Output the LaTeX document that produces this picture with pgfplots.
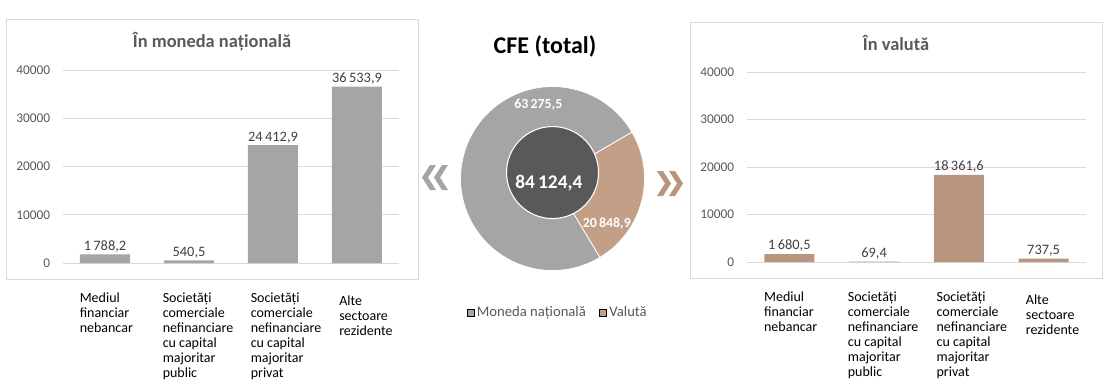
\documentclass[border=0pt]{standalone}
\usepackage{pgfplots}
\pgfplotsset{compat=1.18}
\usepackage{fontspec}
\setmainfont{Carlito}
\definecolor{barg}{HTML}{A5A5A5}
\definecolor{barb}{HTML}{B8957E}
\definecolor{slb}{HTML}{C49F87}
\definecolor{darkc}{HTML}{595959}
\definecolor{txt}{HTML}{595959}
\definecolor{gridc}{HTML}{D9D9D9}
\definecolor{lbl}{HTML}{404040}
\pgfplotsset{
  barax/.style={
    scale only axis, anchor=south west, clip=false,
    xmin=-0.5, xmax=3.5, ymin=0, ymax=40000,
    ytick={0,10000,20000,30000,40000}, scaled y ticks=false,
    ymajorgrids, grid style={gridc, line width=0.75pt},
    axis line style={draw=none}, major tick length=0pt,
    xtick={0,1,2,3},
    xticklabels={{Mediul\\financiar\\nebancar},
      {Societăți\\comerciale\\nefinanciare\\cu capital\\majoritar\\public},
      {Societăți\\comerciale\\nefinanciare\\cu capital\\majoritar\\privat},
      {Alte\\sectoare\\rezidente}},
    xticklabel style={anchor=north west, align=left, inner sep=0pt,
      font=\fontsize{10.5}{11.25}\selectfont, text=black,
      xshift={{-25.5,-26.5,-22.5,-18}[\ticknum]*0.75pt},
      yshift={{-22,-22,-22,-24.5}[\ticknum]*1pt}},
    yticklabel style={text=txt, font=\fontsize{10}{12}\selectfont, inner sep=0pt, xshift=-9.5pt},
    /pgf/number format/assume math mode=true,
    /pgf/number format/1000 sep={},
    ybar, bar width=37.5pt,
    nodes near coords={\pgfmathprintnumber[fixed, fixed zerofill, precision=1, use comma, 1000 sep={\,}, assume math mode=true]{\pgfplotspointmeta}},
    every node near coord/.append style={font=\fontsize{10.8}{12}\selectfont, text=lbl, inner sep=1.5pt},
  }
}
% donut values
\def\vmn{63275.5}
\def\vval{20848.9}
\def\astart{30.3}
\edef\aval{\fpeval{\astart-360*\vval/(\vmn+\vval)}}
\edef\amn{\fpeval{\astart+360*\vmn/(\vmn+\vval)}}
\begin{document}
\begin{tikzpicture}
\begin{scope}[x=0.75pt,y=-0.75pt]
\useasboundingbox (0,0) rectangle (1111,386);
\draw[gridc, line width=0.75pt] (6,19) rectangle (418,279);
\draw[gridc, line width=0.75pt] (690,22) rectangle (1102,278);
\node[font=\bfseries\fontsize{13.8}{16}\selectfont, text=txt] at (212,42) {În moneda națională};
\node[font=\bfseries\fontsize{13.8}{16}\selectfont, text=txt] at (896,43) {În valută};
\node[font=\bfseries\fontsize{18}{20}\selectfont, text=black] at (545,46) {CFE (total)};
% chevrons
\fill[barg] (422,177.5) -- (430,165) -- (436,165) -- (428,177.5) -- (436,190) -- (430,190) -- cycle;
\fill[barg] (434,177.5) -- (442,165) -- (448,165) -- (440,177.5) -- (448,190) -- (442,190) -- cycle;
\fill[barb] (683,183.5) -- (675,171) -- (669,171) -- (677,183.5) -- (669,196) -- (675,196) -- cycle;
\fill[barb] (671,183.5) -- (663,171) -- (657,171) -- (665,183.5) -- (657,196) -- (663,196) -- cycle;
\end{scope}

% left bar chart
\begin{axis}[barax, at={(47.25pt,-197.25pt)}, width=252pt, height=144.75pt]
\addplot[fill=barg, draw=none] coordinates {(0,1788.2) (1,540.5) (2,24412.9) (3,36533.9)};
\end{axis}

% right bar chart
\begin{axis}[barax, at={(560.25pt,-196.5pt)}, width=254.25pt, height=142.5pt]
\addplot[fill=barb, draw=none] coordinates {(0,1680.5) (1,69.4) (2,18361.6) (3,737.5)};
\end{axis}

% donut
\begin{axis}[scale only axis, hide axis, clip=false,
  width=138pt, height=138pt, xmin=-1, xmax=1, ymin=-1, ymax=1,
  at={(414.4pt,-133.9pt)}, anchor=center,
  legend style={at={(0.53,-0.23)}, anchor=center, draw=none, fill=none,
    legend columns=2, font=\fontsize{11}{13}\selectfont, text=txt,
    /tikz/every even column/.append style={column sep=8pt},
    inner sep=0pt},
  legend image code/.code={\fill[#1] (0pt,-2.6pt) rectangle (5.2pt,2.6pt);},
  ]
\addlegendimage{fill=barg}
\addlegendentry{Moneda națională}
\addlegendimage{fill=slb}
\addlegendentry{Valută}
\fill[barg, draw=white, line width=0.6pt] (axis cs:0,0) -- ++(\astart:69pt) arc[start angle=\astart, end angle=\amn, radius=69pt] -- cycle;
\fill[slb, draw=white, line width=0.6pt] (axis cs:0,0) -- ++(\astart:69pt) arc[start angle=\astart, end angle=\aval, radius=69pt] -- cycle;
\fill[darkc, draw=white, line width=0.8pt] (axis cs:0,0.065) circle[radius=34.5pt];
\node[text=white, font=\bfseries\fontsize{14.5}{16}\selectfont] at (axis cs:-0.04,-0.05) {84\,124,4};
\node[text=white, font=\bfseries\fontsize{10.4}{12}\selectfont] at (axis cs:-0.155,0.8) {63\,275,5};
\node[text=white, font=\bfseries\fontsize{10.4}{12}\selectfont] at (axis cs:0.59,-0.49) {20\,848,9};
\end{axis}
\end{tikzpicture}
\end{document}
